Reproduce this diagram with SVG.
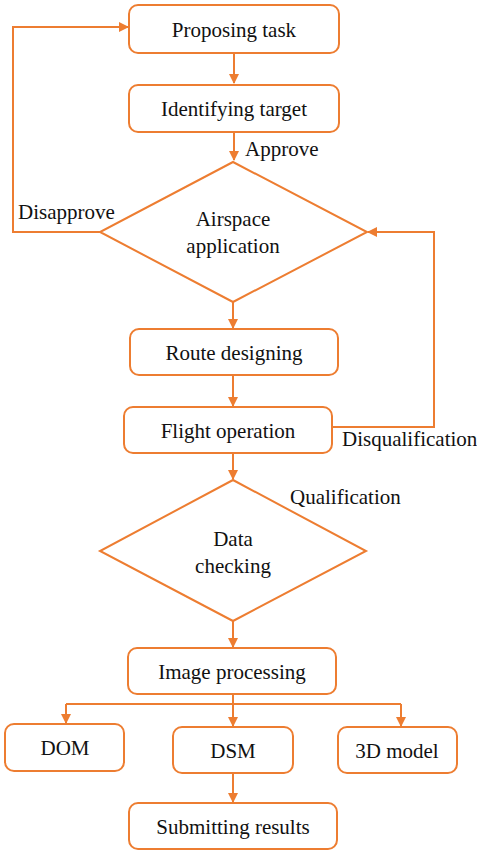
<svg xmlns="http://www.w3.org/2000/svg" width="477" height="853" viewBox="0 0 477 853" font-family="Liberation Serif, Times New Roman, serif">
<style>
.box{fill:#fff;stroke:#ED7D31;stroke-width:2}
.ln{fill:none;stroke:#ED7D31;stroke-width:2}
.t{font-size:21px;fill:#111}
.c{text-anchor:middle}
</style>
<defs>
<marker id="ah" markerWidth="10" markerHeight="10" refX="9" refY="5" orient="auto" markerUnits="userSpaceOnUse">
<path d="M0,0 L10,5 L0,10 Z" fill="#ED7D31"/>
</marker>
</defs>
<rect width="477" height="853" fill="#fff"/>
<g id="connectors">
<line class="ln" x1="234" y1="53" x2="234" y2="83" marker-end="url(#ah)"/>
<line class="ln" x1="234" y1="132" x2="234" y2="160" marker-end="url(#ah)"/>
<polyline class="ln" points="100,232 13,232 13,27 128,27" marker-end="url(#ah)"/>
<line class="ln" x1="233" y1="302" x2="233" y2="328" marker-end="url(#ah)"/>
<line class="ln" x1="233" y1="375" x2="233" y2="406" marker-end="url(#ah)"/>
<polyline class="ln" points="332,427 434,427 434,232 368,232" marker-end="url(#ah)"/>
<line class="ln" x1="233" y1="453" x2="233" y2="479" marker-end="url(#ah)"/>
<line class="ln" x1="233" y1="621" x2="233" y2="647" marker-end="url(#ah)"/>
<line class="ln" x1="233" y1="694" x2="233" y2="704"/>
<line class="ln" x1="66" y1="704" x2="401" y2="704"/>
<line class="ln" x1="66" y1="704" x2="66" y2="723" marker-end="url(#ah)"/>
<line class="ln" x1="233" y1="704" x2="233" y2="726" marker-end="url(#ah)"/>
<line class="ln" x1="401" y1="704" x2="401" y2="726" marker-end="url(#ah)"/>
<line class="ln" x1="233" y1="773" x2="233" y2="802" marker-end="url(#ah)"/>
<text class="t" x="245" y="156">Approve</text>
<text class="t" x="18" y="219">Disapprove</text>
<text class="t" x="342" y="446">Disqualification</text>
<text class="t" x="290" y="504">Qualification</text>
</g>
<g id="n-propose"><rect class="box" x="129" y="5" width="210" height="48" rx="9"/><text class="t c" x="234" y="37">Proposing task</text></g>
<g id="n-identify"><rect class="box" x="129" y="85" width="210" height="47" rx="9"/><text class="t c" x="234" y="116">Identifying target</text></g>
<g id="n-airspace"><polygon class="box" points="233,162 367,232 233,302 100,232"/><text class="t c" x="233" y="226">Airspace</text><text class="t c" x="233" y="253">application</text></g>
<g id="n-route"><rect class="box" x="130" y="329" width="208" height="46" rx="9"/><text class="t c" x="234" y="360">Route designing</text></g>
<g id="n-flight"><rect class="box" x="124" y="407" width="208" height="46" rx="9"/><text class="t c" x="228" y="438">Flight operation</text></g>
<g id="n-check"><polygon class="box" points="233,480 366,551 233,621 100,551"/><text class="t c" x="233" y="546">Data</text><text class="t c" x="233" y="573">checking</text></g>
<g id="n-image"><rect class="box" x="128" y="648" width="208" height="46" rx="9"/><text class="t c" x="232" y="679">Image processing</text></g>
<g id="n-dom"><rect class="box" x="5" y="724" width="119" height="47" rx="9"/><text class="t c" x="65" y="755">DOM</text></g>
<g id="n-dsm"><rect class="box" x="173" y="727" width="120" height="46" rx="9"/><text class="t c" x="233" y="758">DSM</text></g>
<g id="n-3d"><rect class="box" x="338" y="727" width="119" height="46" rx="9"/><text class="t c" x="397" y="758">3D model</text></g>
<g id="n-submit"><rect class="box" x="129" y="803" width="208" height="46" rx="9"/><text class="t c" x="233" y="834">Submitting results</text></g>
</svg>
